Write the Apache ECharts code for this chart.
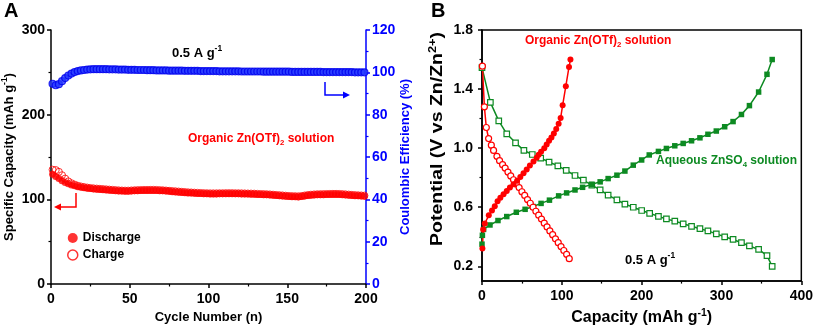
<!DOCTYPE html>
<html>
<head>
<meta charset="utf-8">
<script src="https://cdn.jsdelivr.net/npm/echarts@6/dist/echarts.min.js"></script>
<style>
  html, body { margin: 0; background: #fff; }
  #chart { width: 816px; height: 331px; }
</style>
</head>
<body>
<div id="chart"></div>
<script>
// ---- panel A: cycling at 0.5 A/g (every 2nd cycle, starting at cycle 1)
const cycleStep = 2
const dischargeCap = [
  129.5, 127, 124.5, 122, 120, 118.5, 117, 116, 115, 114.3,
  113.7, 113.2, 112.7, 112.3, 112, 111.7, 111.4, 111.1, 110.8, 110.5,
  110.2, 109.9, 109.7, 109.6, 109.6, 109.8, 110, 110.2, 110.3, 110.4,
  110.4, 110.5, 110.5, 110.4, 110.2, 110, 109.7, 109.4, 109.1, 108.8,
  108.5, 108.2, 107.9, 107.6, 107.4, 107.2, 107, 106.8, 106.6, 106.5,
  106.4, 106.4, 106.4, 106.5, 106.5, 106.6, 106.6, 106.6, 106.5, 106.5,
  106.4, 106.3, 106.2, 106.1, 106, 105.8, 105.6, 105.5, 105.3, 105.1,
  104.8, 104.5, 104.2, 103.9, 103.6, 103.3, 103.1, 103, 102.9, 103.2,
  103.8, 104.4, 104.8, 105.1, 105.3, 105.4, 105.5, 105.6, 105.7, 105.8,
  105.8, 105.7, 105.5, 105.2, 104.9, 104.6, 104.3, 104.1, 103.9, 103.7
]
const chargeCap = [
  135, 134.6, 132.5, 128.5, 124.5, 121.2, 119, 117.4, 116.1, 115.2,
  114.5, 113.9, 113.4, 113, 112.7, 112.4, 112.1, 111.8, 111.5, 111.2,
  110.9, 110.6, 110.4, 110.3, 110.3, 110.5, 110.7, 110.9, 111, 111.1,
  111.1, 111.2, 111.2, 111.1, 110.9, 110.7, 110.4, 110.1, 109.8, 109.5,
  109.2, 108.9, 108.6, 108.3, 108.1, 107.9, 107.7, 107.5, 107.3, 107.2,
  107.1, 107.1, 107.1, 107.2, 107.2, 107.3, 107.3, 107.3, 107.2, 107.2,
  107.1, 107, 106.9, 106.8, 106.7, 106.5, 106.3, 106.2, 106, 105.8,
  105.5, 105.2, 104.9, 104.6, 104.3, 104, 103.8, 103.7, 103.6, 103.9,
  104.5, 105.1, 105.5, 105.8, 106, 106.1, 106.2, 106.3, 106.4, 106.5,
  106.5, 106.4, 106.2, 105.9, 105.6, 105.3, 105, 104.8, 104.6, 104.4
]
const coulombicEff = [
  94.6, 93.9, 94.4, 95.8, 97.3, 98.5, 99.4, 100.1, 100.6, 100.9,
  101.1, 101.3, 101.4, 101.5, 101.5, 101.5, 101.5, 101.5, 101.4, 101.4,
  101.4, 101.3, 101.3, 101.3, 101.2, 101.2, 101.2, 101.1, 101.1, 101.1,
  101.0, 101.0, 101.0, 100.9, 100.9, 100.9, 100.9, 100.8, 100.8, 100.8,
  100.8, 100.8, 100.7, 100.7, 100.7, 100.7, 100.7, 100.6, 100.6, 100.6,
  100.6, 100.6, 100.6, 100.5, 100.5, 100.5, 100.5, 100.5, 100.5, 100.5,
  100.4, 100.4, 100.4, 100.4, 100.4, 100.4, 100.4, 100.3, 100.3, 100.3,
  100.3, 100.3, 100.3, 100.3, 100.3, 100.3, 100.2, 100.2, 100.2, 100.2,
  100.2, 100.2, 100.2, 100.2, 100.2, 100.2, 100.1, 100.1, 100.1, 100.1,
  100.1, 100.1, 100.1, 100.1, 100.1, 100.1, 100.0, 100.0, 100.0, 100.0
]

// ---- panel B: voltage profiles (capacity mAh/g, potential V)
const orgChargeCap = [0.5, 1.5, 3.5, 8.5, 12.5, 16, 19.5, 23, 27, 31, 35, 39.5, 44, 48, 52, 56, 60, 64.5, 68.5, 71, 74, 78, 81, 84, 87, 90, 93, 96, 98.5, 101, 105, 109, 110.8]
const orgChargeV = [0.32, 0.45, 0.49, 0.545, 0.578, 0.607, 0.64, 0.664, 0.688, 0.71, 0.733, 0.756, 0.779, 0.804, 0.831, 0.855, 0.882, 0.909, 0.935, 0.955, 0.976, 1.0, 1.025, 1.05, 1.072, 1.1, 1.13, 1.165, 1.205, 1.29, 1.42, 1.55, 1.6]
const orgDischargeCap = [0.5, 3, 5.4, 8.3, 11.7, 14.5, 18.7, 22, 25.8, 29, 32.5, 36, 39.5, 43, 46.5, 50, 53.5, 57, 60.5, 64, 67.5, 71, 74.5, 78, 81.5, 85, 88.5, 92, 95.5, 99, 102.5, 106, 109.3]
const orgDischargeV = [1.555, 1.28, 1.14, 1.065, 1.02, 0.985, 0.945, 0.915, 0.888, 0.865, 0.838, 0.812, 0.786, 0.758, 0.733, 0.705, 0.68, 0.652, 0.627, 0.6, 0.573, 0.546, 0.52, 0.492, 0.467, 0.44, 0.414, 0.386, 0.36, 0.334, 0.307, 0.281, 0.252]
const aqChargeCap = [0, 0.5, 2, 10, 20, 31, 43, 54, 64, 74, 84.5, 96, 106, 116.5, 126, 137.5, 148, 158, 169, 179, 189.5, 200, 209.5, 221, 231, 241.5, 252, 262.5, 273, 283, 293.5, 304, 314.5, 325, 335, 346.5, 357, 363.5]
const aqChargeV = [0.35, 0.41, 0.45, 0.48, 0.51, 0.537, 0.566, 0.586, 0.605, 0.626, 0.648, 0.677, 0.697, 0.717, 0.735, 0.755, 0.772, 0.794, 0.817, 0.845, 0.885, 0.92, 0.954, 0.978, 0.998, 1.016, 1.032, 1.05, 1.07, 1.094, 1.116, 1.145, 1.18, 1.228, 1.288, 1.38, 1.5, 1.6]
const aqDischargeCap = [0, 10.5, 21, 31, 42, 52.5, 63, 73.5, 84, 95, 105.5, 116.5, 127, 137.5, 148, 158, 169, 179, 189.5, 200, 210, 221, 231, 241.5, 252, 262.5, 273, 283, 293.5, 304, 314.5, 325, 335, 346.5, 357, 363.5]
const aqDischargeV = [1.545, 1.31, 1.185, 1.097, 1.036, 0.985, 0.957, 0.933, 0.906, 0.88, 0.85, 0.815, 0.783, 0.75, 0.717, 0.682, 0.65, 0.621, 0.6, 0.578, 0.559, 0.538, 0.521, 0.506, 0.488, 0.471, 0.455, 0.44, 0.42, 0.4, 0.382, 0.36, 0.338, 0.315, 0.272, 0.2]

const potLabels = [0.2, 0.6, 1.0, 1.4, 1.8]
const potMinor = [0.4, 0.8, 1.2, 1.6]

const FONT = "'Liberation Sans', Arial, sans-serif"
const RED = '#ff0000'
const BLUE = '#0000ff'
const GREEN = '#0d8a22'

const withCycle = arr => arr.map((v, i) => [1 + i * cycleStep, v])
const zip = (xs, ys) => xs.map((x, i) => [x, ys[i]])

// rich styles for axis names (echarts text style)
const richText = (color, size) => ({
  a: { fontFamily: FONT, fontWeight: 'bold', fontSize: size, color, lineHeight: size + 4 },
  sub: { fontFamily: FONT, fontWeight: 'bold', fontSize: size * 0.65, color, lineHeight: size * 0.55, verticalAlign: 'bottom' },
  sup: { fontFamily: FONT, fontWeight: 'bold', fontSize: size * 0.65, color, lineHeight: size * 0.55, verticalAlign: 'top' }
})
// rich styles for graphic texts (zrender style, uses fill)
const richFill = (fill, size) => ({
  a: { fontFamily: FONT, fontWeight: 'bold', fontSize: size, fill, lineHeight: size + 4 },
  sub: { fontFamily: FONT, fontWeight: 'bold', fontSize: size * 0.65, fill, lineHeight: size * 0.55, verticalAlign: 'bottom' },
  sup: { fontFamily: FONT, fontWeight: 'bold', fontSize: size * 0.65, fill, lineHeight: size * 0.55, verticalAlign: 'top' }
})

const tickLabel = (color) => ({ color, fontFamily: FONT, fontWeight: 'bold', fontSize: 14 })

const chart = echarts.init(document.getElementById('chart'), null, { renderer: 'canvas' })

const option = {
  animation: false,
  backgroundColor: '#fff',
  grid: [
    { left: 50, right: 450, top: 30, bottom: 47 },
    { left: 482, right: 14, top: 30, bottom: 47, show: true, borderColor: '#000', borderWidth: 1.5, backgroundColor: 'transparent' }
  ],
  legend: {
    left: 62, top: 227, orient: 'vertical',
    itemWidth: 10, itemHeight: 10, itemGap: 5,
    textStyle: { fontFamily: FONT, fontWeight: 'bold', fontSize: 12, color: '#000' },
    data: [
      { name: 'Discharge', icon: 'circle', itemStyle: { color: RED } },
      { name: 'Charge', icon: 'circle', itemStyle: { color: '#fff', borderColor: RED, borderWidth: 1.5 } }
    ]
  },
  xAxis: [
    {
      gridIndex: 0, type: 'value', min: 0, max: 200, interval: 50,
      axisLine: { lineStyle: { color: '#000', width: 1.5 } },
      axisTick: { length: 4, lineStyle: { width: 1.5 } },
      minorTick: { show: true, splitNumber: 2, length: 2.5, lineStyle: { color: '#000', width: 1.2 } },
      splitLine: { show: false },
      axisLabel: { ...tickLabel('#000'), margin: 8 },
      name: '{a|Cycle Number (n)}', nameLocation: 'middle', nameGap: 23,
      nameTextStyle: { rich: richText('#000', 13) }
    },
    {
      gridIndex: 1, type: 'value', min: 0, max: 400, interval: 100,
      axisLine: { lineStyle: { color: '#000', width: 1.5 } },
      axisTick: { length: 4, lineStyle: { width: 1.5 } },
      minorTick: { show: true, splitNumber: 2, length: 2.5, lineStyle: { color: '#000', width: 1.2 } },
      splitLine: { show: false },
      axisLabel: { ...tickLabel('#000'), margin: 8 },
      name: '{a|Capacity (mAh g}{sup|-1}{a|)}', nameLocation: 'middle', nameGap: 26,
      nameTextStyle: { rich: richText('#000', 16) }
    }
  ],
  yAxis: [
    {
      gridIndex: 0, type: 'value', min: 0, max: 300, interval: 100,
      axisLine: { show: true, lineStyle: { color: '#000', width: 1.5 } },
      axisTick: { show: true, length: 4, lineStyle: { width: 1.5 } },
      minorTick: { show: true, splitNumber: 2, length: 2.5, lineStyle: { color: '#000', width: 1.2 } },
      splitLine: { show: false },
      axisLabel: { ...tickLabel('#000'), margin: 6 },
      name: '{a|Specific Capacity (mAh g}{sup|-1}{a|)}', nameLocation: 'middle', nameGap: 33,
      nameTextStyle: { rich: richText('#000', 13) }
    },
    {
      gridIndex: 0, type: 'value', position: 'right', min: 0, max: 120, interval: 20,
      axisLine: { show: true, lineStyle: { color: BLUE, width: 1.5 } },
      axisTick: { show: true, length: 4, lineStyle: { color: BLUE, width: 1.5 } },
      minorTick: { show: true, splitNumber: 2, length: 2.5, lineStyle: { color: BLUE, width: 1.2 } },
      splitLine: { show: false },
      axisLabel: { ...tickLabel(BLUE), margin: 6 },
      name: '{a|Coulombic Efficiency (%)}', nameLocation: 'middle', nameGap: 30,
      nameTextStyle: { rich: richText(BLUE, 13) }
    },
    {
      gridIndex: 1, type: 'value', position: 'left', min: 0.1, max: 1.8,
      axisLine: { show: true, lineStyle: { color: '#000', width: 1.5 } },
      axisTick: { show: true, length: 4, customValues: potLabels, lineStyle: { width: 1.5 } },
      splitLine: { show: false },
      axisLabel: { ...tickLabel('#000'), margin: 9, customValues: potLabels, formatter: v => v.toFixed(1) }
    },
    {
      // minor ticks for the potential axis
      gridIndex: 1, type: 'value', position: 'left', offset: 0, min: 0.1, max: 1.8,
      axisLine: { show: false },
      axisTick: { show: true, length: 2.5, customValues: potMinor, lineStyle: { color: '#000', width: 1.2 } },
      axisLabel: { show: false },
      splitLine: { show: false }
    }
  ],
  series: [
    {
      name: 'Discharge', type: 'scatter', xAxisIndex: 0, yAxisIndex: 0,
      data: withCycle(dischargeCap), symbol: 'circle', symbolSize: 7,
      itemStyle: { color: RED }
    },
    {
      name: 'Charge', type: 'scatter', xAxisIndex: 0, yAxisIndex: 0,
      data: withCycle(chargeCap), symbol: 'circle', symbolSize: 7,
      itemStyle: { color: 'rgba(255,255,255,0)', borderColor: RED, borderWidth: 1 }
    },
    {
      name: 'CE', type: 'scatter', xAxisIndex: 0, yAxisIndex: 1,
      data: withCycle(coulombicEff), symbol: 'circle', symbolSize: 7,
      itemStyle: { color: '#2438ff', borderColor: '#0000ee', borderWidth: 1.2 }
    },
    {
      name: 'Aq discharge', type: 'line', xAxisIndex: 1, yAxisIndex: 2,
      data: zip(aqDischargeCap, aqDischargeV), symbol: 'rect', symbolSize: 5.5,
      lineStyle: { color: GREEN, width: 1.5 },
      itemStyle: { color: '#fff', borderColor: GREEN, borderWidth: 1.2 }
    },
    {
      name: 'Aq charge', type: 'line', xAxisIndex: 1, yAxisIndex: 2,
      data: zip(aqChargeCap, aqChargeV), symbol: 'rect', symbolSize: 5.5,
      lineStyle: { color: GREEN, width: 1.5 },
      itemStyle: { color: GREEN }
    },
    {
      name: 'Org discharge', type: 'line', xAxisIndex: 1, yAxisIndex: 2,
      data: zip(orgDischargeCap, orgDischargeV), symbol: 'circle', symbolSize: 6,
      lineStyle: { color: RED, width: 1.5 },
      itemStyle: { color: '#fff', borderColor: RED, borderWidth: 1.2 }
    },
    {
      name: 'Org charge', type: 'line', xAxisIndex: 1, yAxisIndex: 2,
      data: zip(orgChargeCap, orgChargeV), symbol: 'circle', symbolSize: 6,
      lineStyle: { color: RED, width: 1.5 },
      itemStyle: { color: RED }
    }
  ],
  graphic: [
    { type: 'text', left: 4, top: 1, style: { text: 'A', font: `bold 20px ${FONT}`, fill: '#000' } },
    { type: 'text', left: 431, top: 1, style: { text: 'B', font: `bold 20px ${FONT}`, fill: '#000' } },
    // potential axis title (stretched along its length like the original)
    {
      type: 'text', x: 438, y: 139, rotation: Math.PI / 2, scaleX: 1.22,
      style: { text: '{a|Potential (V vs Zn/Zn}{sup|2+}{a|)}', rich: richFill('#000', 16), align: 'center', verticalAlign: 'middle' }
    },
    { type: 'text', left: 172, top: 45, style: { text: '{a|0.5 A g}{sup|-1}', rich: richFill('#000', 13) } },
    { type: 'text', left: 188, top: 133, style: { text: '{a|Organic Zn(OTf)}{sub|2}{a| solution}', rich: richFill(RED, 12) } },
    { type: 'text', left: 525, top: 35, style: { text: '{a|Organic Zn(OTf)}{sub|2}{a| solution}', rich: richFill(RED, 12) } },
    { type: 'text', left: 656, top: 155, style: { text: '{a|Aqueous ZnSO}{sub|4}{a| solution}', rich: richFill(GREEN, 12) } },
    { type: 'text', left: 625, top: 252, style: { text: '{a|0.5 A g}{sup|-1}', rich: richFill('#000', 13) } },
    // axis pointer arrows
    { type: 'polyline', shape: { points: [[325, 82], [325, 95], [345, 95]] }, style: { stroke: BLUE, lineWidth: 1.5, fill: null } },
    { type: 'polygon', shape: { points: [[350, 95], [343, 91.5], [343, 98.5]] }, style: { fill: BLUE } },
    { type: 'polyline', shape: { points: [[76, 193], [76, 207], [60, 207]] }, style: { stroke: RED, lineWidth: 1.5, fill: null } },
    { type: 'polygon', shape: { points: [[54, 207], [61, 203.5], [61, 210.5]] }, style: { fill: RED } }
  ]
}

chart.setOption(option)
</script>
</body>
</html>
